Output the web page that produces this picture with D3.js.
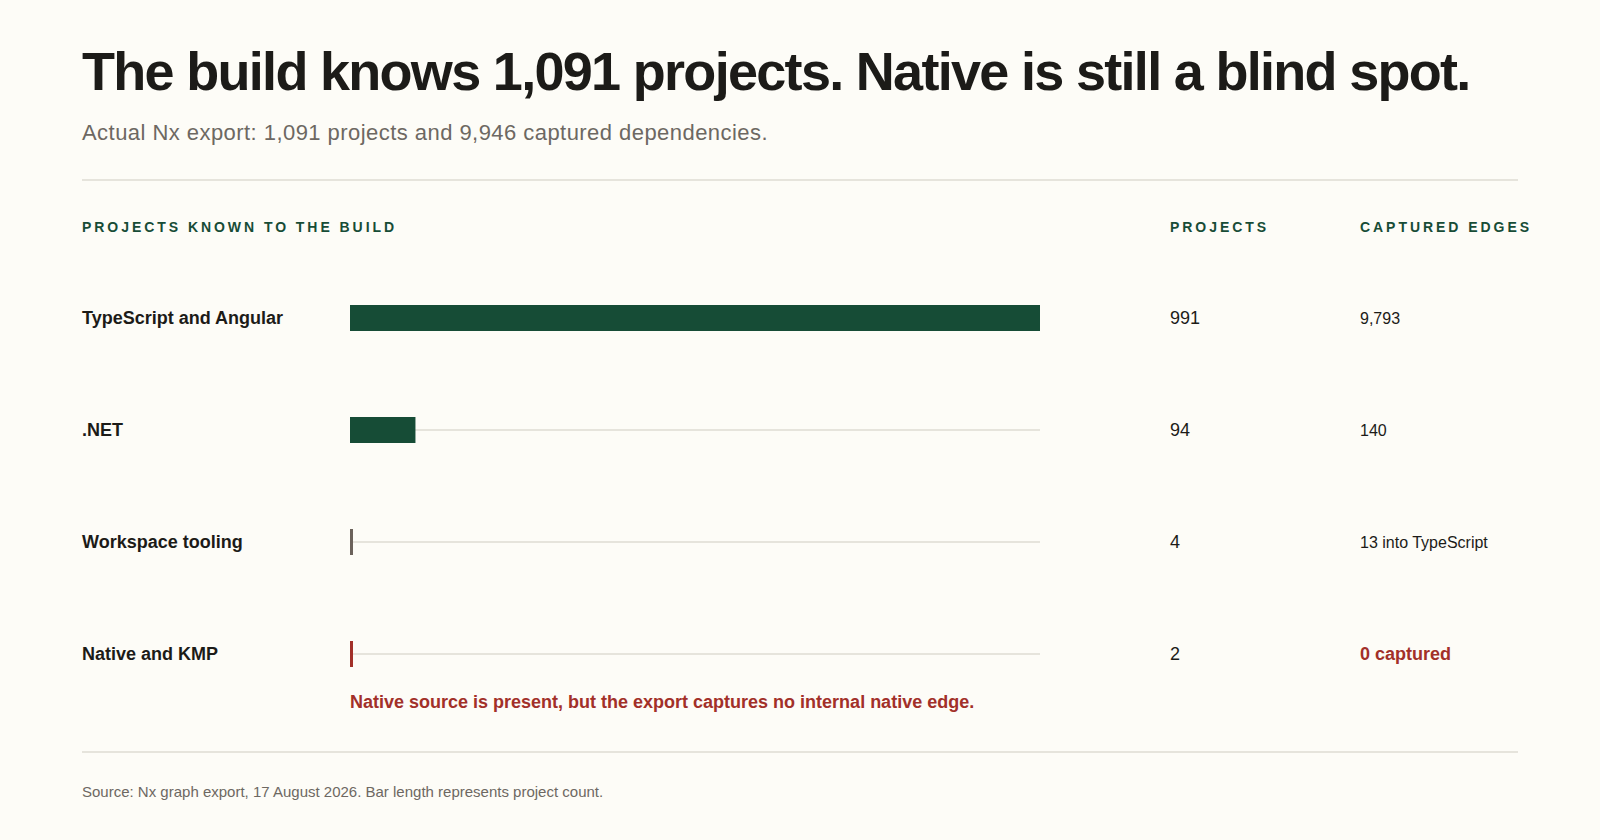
<!DOCTYPE html>
<html lang="en">
<head>
<meta charset="UTF-8">
<title>Nx projects known to the build</title>
<script src="https://cdn.jsdelivr.net/npm/d3@7"></script>
<style>
html, body{
	margin:0;
	padding:0;
	background:#fdfcf7;
}
svg{
	display:block;
	font-family:"Liberation Sans", Arial, Helvetica, sans-serif;
}
.title{ font-size:54px; font-weight:700; fill:#1c1b18; letter-spacing:-1.7px; }
.subtitle{ font-size:22px; fill:#6d6862; letter-spacing:0.45px; }
.rule{ stroke:#e6e4dc; stroke-width:2px; }
.head{ font-size:14px; font-weight:700; fill:#174c36; letter-spacing:2.95px; }
.rowlabel{ font-size:18px; font-weight:700; fill:#1c1b18; }
.track{ stroke:#e6e4dc; stroke-width:2px; }
.num{ font-size:18px; fill:#1c1b18; }
.edge{ font-size:16px; fill:#1c1b18; }
.edge.alert{ font-size:18px; font-weight:700; fill:#a23029; }
.note{ font-size:18px; font-weight:700; fill:#a23029; }
.source{ font-size:15px; fill:#6d6862; }
</style>
</head>
<body>
<script>
// data
var categories = ["TypeScript and Angular", ".NET", "Workspace tooling", "Native and KMP"];
var projects   = [991, 94, 4, 2];
var edgeLabels = ["9,793", "140", "13 into TypeScript", "0 captured"];
var headers    = ["PROJECTS KNOWN TO THE BUILD", "PROJECTS", "CAPTURED EDGES"];
var titleText  = "The build knows 1,091 projects. Native is still a blind spot.";
var subText    = "Actual Nx export: 1,091 projects and 9,946 captured dependencies.";
var noteText   = "Native source is present, but the export captures no internal native edge.";
var sourceText = "Source: Nx graph export, 17 August 2026. Bar length represents project count.";

var W = 1600, H = 840, left = 82, right = 1518;
var colProj = 1170, colEdge = 1360, barH = 26, minW = 3;

var rows = categories.map(function(c, i){
	return {cat:c, v:projects[i], e:edgeLabels[i]};
});

var svg = d3.select("body").append("svg").attr("width", W).attr("height", H);

var x = d3.scaleLinear().domain([0, d3.max(projects)]).range([350, 1040]);
var y = d3.scalePoint().domain(categories).range([318, 654]);
var color = d3.scaleOrdinal().domain(categories)
	.range(["#164c36", "#164c36", "#6b625b", "#a23029"]);

// header block
svg.append("text").attr("class", "title").attr("x", left).attr("y", 90).text(titleText);
svg.append("text").attr("class", "subtitle").attr("x", left).attr("y", 140).text(subText);
svg.append("line").attr("class", "rule").attr("x1", left).attr("x2", right).attr("y1", 180).attr("y2", 180);

svg.selectAll("text.head").data(headers).enter().append("text")
	.attr("class", "head")
	.attr("x", function(d, i){ return [left, colProj, colEdge][i]; })
	.attr("y", 232)
	.text(function(d){ return d; });

// rows
var g = svg.append("g").selectAll("g").data(rows).enter().append("g")
	.attr("transform", function(d){ return "translate(0," + y(d.cat) + ")"; });

g.append("text").attr("class", "rowlabel")
	.attr("x", left).attr("dy", "0.35em")
	.text(function(d){ return d.cat; });

g.append("line").attr("class", "track")
	.attr("x1", x(0)).attr("x2", x.range()[1]).attr("y1", 0).attr("y2", 0);

g.append("rect")
	.attr("x", x(0))
	.attr("y", -barH / 2)
	.attr("height", barH)
	.attr("width", function(d){ return Math.max(minW, x(d.v) - x(0)); })
	.attr("fill", function(d){ return color(d.cat); });

g.append("text").attr("class", "num")
	.attr("x", colProj).attr("dy", "0.35em")
	.text(function(d){ return d3.format(",")(d.v); });

g.append("text")
	.attr("class", function(d, i){ return i == rows.length - 1 ? "edge alert" : "edge"; })
	.attr("x", colEdge).attr("dy", "0.35em")
	.text(function(d){ return d.e; });

// annotation under native row
svg.append("text").attr("class", "note")
	.attr("x", x(0)).attr("y", y(categories[3]) + 54)
	.text(noteText);

// footer
svg.append("line").attr("class", "rule").attr("x1", left).attr("x2", right).attr("y1", 752).attr("y2", 752);
svg.append("text").attr("class", "source").attr("x", left).attr("y", 797).text(sourceText);
</script>
</body>
</html>
